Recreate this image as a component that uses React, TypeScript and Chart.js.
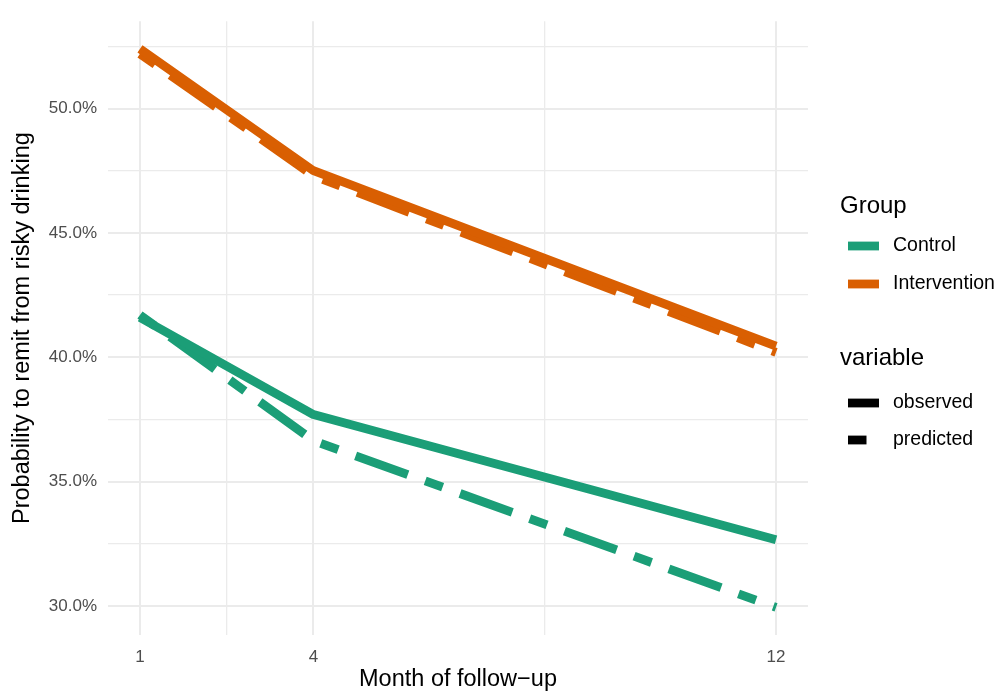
import React, { useEffect, useRef } from "react";
import { Chart, registerables } from "chart.js";

Chart.register(...registerables);

const months = [1, 4, 12];
const controlObserved = [41.6, 37.7, 32.67];
const controlPredicted = [41.7, 36.65, 29.95];
const interventionObserved = [52.4, 47.5, 40.45];
const interventionPredicted = [52.2, 47.3, 40.2];

const xTicks = [1, 2.5, 4, 8, 12];
const xTickLabels = ["1", "", "4", "", "12"];
const yTicks = [30, 32.5, 35, 37.5, 40, 42.5, 45, 47.5, 50, 52.5];

const groupNames = ["Control", "Intervention"];
const variableNames = ["observed", "predicted"];

const GREEN = "#1B9E77";
const ORANGE = "#D95F02";
const FONT = '"Liberation Sans", Arial, Helvetica, sans-serif';
const LW = 8.8;
const DASH = [18.5, 18.5, 55.5, 18.5];

const legendPlugin = {
  id: "ggLegend",
  afterDraw(chart: any) {
    const ctx = chart.ctx;
    ctx.save();
    ctx.textBaseline = "middle";
    ctx.textAlign = "left";
    ctx.fillStyle = "#000";
    ctx.font = `24px ${FONT}`;
    ctx.fillText("Group", 840, 206);
    ctx.font = `19.5px ${FONT}`;
    const gColors = [GREEN, ORANGE];
    const gY = [246, 284];
    groupNames.forEach((n, i) => {
      ctx.strokeStyle = gColors[i];
      ctx.lineWidth = LW;
      ctx.lineCap = "butt";
      ctx.setLineDash([]);
      ctx.beginPath();
      ctx.moveTo(848, gY[i]);
      ctx.lineTo(879, gY[i]);
      ctx.stroke();
      ctx.fillStyle = "#000";
      ctx.fillText(n, 893, gY[i]);
    });
    ctx.font = `24px ${FONT}`;
    ctx.fillText("variable", 840, 358);
    ctx.font = `19.5px ${FONT}`;
    const vY = [403, 440];
    variableNames.forEach((n, i) => {
      ctx.strokeStyle = "#000";
      ctx.lineWidth = LW;
      ctx.setLineDash(i === 0 ? [] : DASH);
      ctx.beginPath();
      ctx.moveTo(848, vY[i]);
      ctx.lineTo(879, vY[i]);
      ctx.stroke();
      ctx.setLineDash([]);
      ctx.fillText(n, 893, vY[i]);
    });
    ctx.restore();
  },
};

export default function App() {
  const ref = useRef<HTMLCanvasElement>(null);
  useEffect(() => {
    if (!ref.current) return;
    const mk = (label: string, data: number[], color: string, dashed: boolean) => ({
      label,
      data: months.map((m, i) => ({ x: m, y: data[i] })),
      borderColor: color,
      backgroundColor: color,
      borderWidth: LW,
      borderDash: dashed ? DASH : [],
      borderCapStyle: "butt",
      borderJoinStyle: "round",
      pointRadius: 0,
      pointHoverRadius: 0,
      tension: 0,
      fill: false,
    });
    const chart = new Chart(ref.current, {
      type: "line",
      data: {
        datasets: [
          mk("Control observed", controlObserved, GREEN, false),
          mk("Control predicted", controlPredicted, GREEN, true),
          mk("Intervention observed", interventionObserved, ORANGE, false),
          mk("Intervention predicted", interventionPredicted, ORANGE, true),
        ] as any,
      },
      options: {
        animation: false,
        responsive: false,
        layout: { padding: { top: 17, right: 195, left: 0, bottom: 0 } },
        plugins: { legend: { display: false }, tooltip: { enabled: false } },
        scales: {
          x: {
            type: "linear",
            min: 0.447,
            max: 12.553,
            afterBuildTicks: (s: any) => {
              s.ticks = xTicks.map((v) => ({ value: v }));
            },
            afterFit: (s: any) => {
              s.height = 60;
            },
            ticks: {
              autoSkip: false,
              maxRotation: 0,
              padding: 12,
              color: "#4D4D4D",
              font: { family: FONT, size: 17 },
              callback: (v: any) => {
                const i = xTicks.indexOf(Number(v));
                return i >= 0 ? xTickLabels[i] : "";
              },
            },
            grid: {
              color: "#EBEBEB",
              lineWidth: (c: any) => (c.tick && xTickLabels[xTicks.indexOf(c.tick.value)] ? 2 : 1.3),
              drawTicks: false,
            },
            border: { display: false },
            title: {
              display: true,
              text: "Month of follow\u2212up",
              color: "#000",
              font: { family: FONT, size: 23.5 },
              padding: { top: 0, bottom: 1 },
            },
          },
          y: {
            type: "linear",
            min: 28.84,
            max: 53.51,
            afterBuildTicks: (s: any) => {
              s.ticks = yTicks.map((v) => ({ value: v }));
            },
            afterFit: (s: any) => {
              s.width = 108;
            },
            ticks: {
              autoSkip: false,
              padding: 11,
              color: "#4D4D4D",
              font: { family: FONT, size: 17 },
              callback: (v: any) => (Number(v) % 5 === 0 ? Number(v).toFixed(1) + "%" : ""),
            },
            grid: {
              color: "#EBEBEB",
              lineWidth: (c: any) => (c.tick && c.tick.value % 5 === 0 ? 2 : 1.3),
              drawTicks: false,
            },
            border: { display: false },
            title: {
              display: true,
              text: "Probability to remit from risky drinking",
              color: "#000",
              font: { family: FONT, size: 23.5 },
              padding: { top: 8, bottom: 0 },
            },
          },
        },
      } as any,
      plugins: [legendPlugin],
    });
    return () => chart.destroy();
  }, []);
  return (
    <div style={{ position: "fixed", left: 0, top: 0, width: 1003, height: 695, background: "#fff" }}>
      <canvas ref={ref} width={1003} height={695} style={{ width: 1003, height: 695 }} />
    </div>
  );
}
